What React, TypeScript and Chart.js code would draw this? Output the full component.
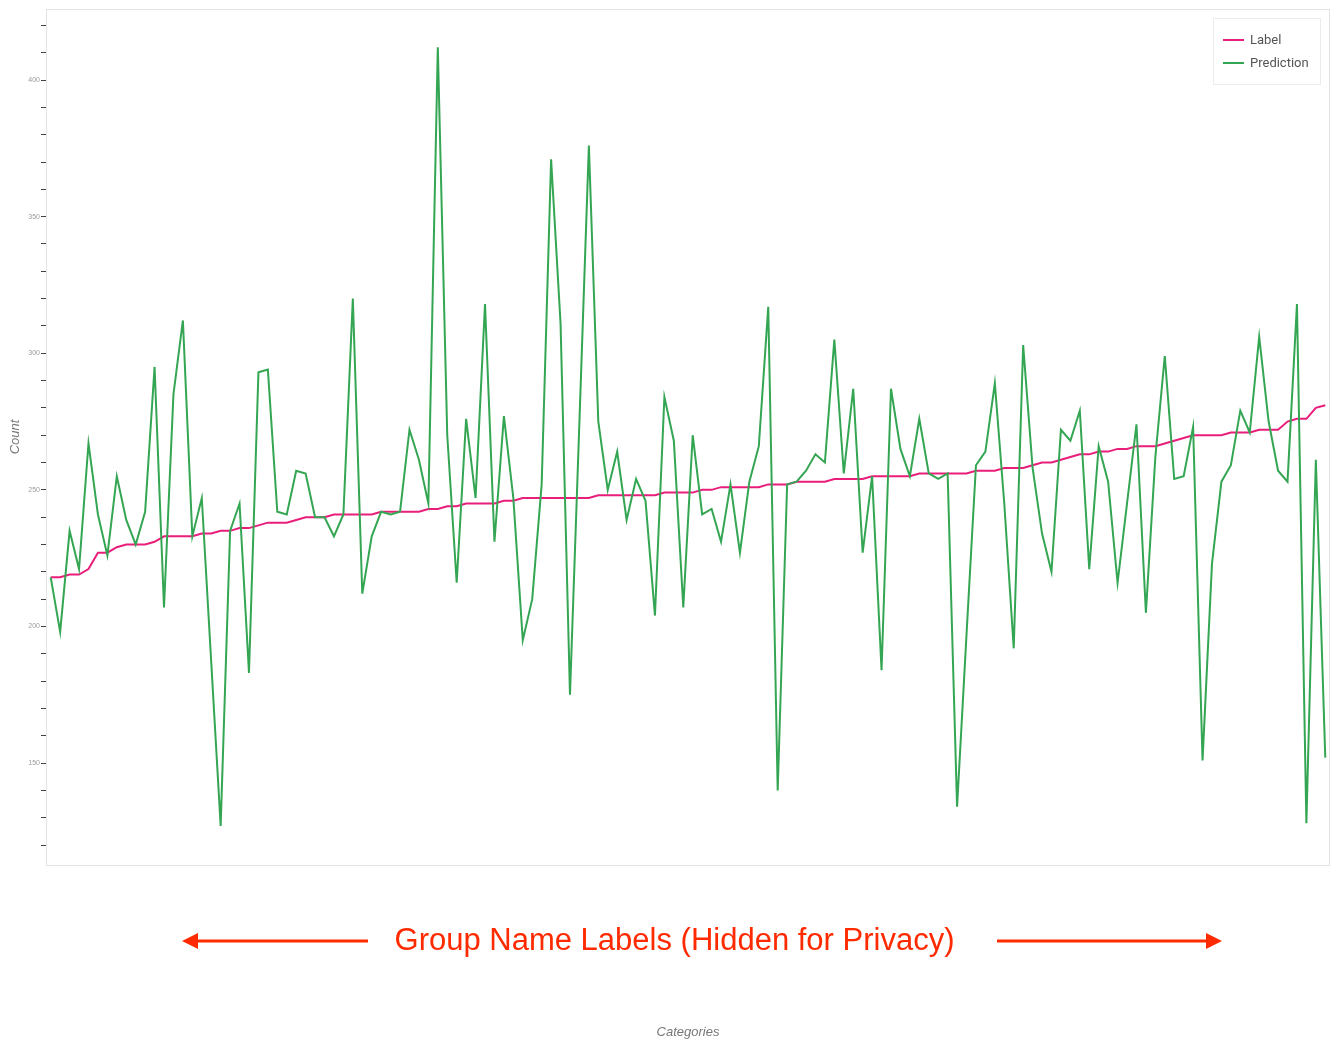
import React, { useEffect, useRef } from "react";
import { Chart, registerables } from "chart.js";

Chart.register(...registerables);

// Group names are hidden in the reference; placeholder category names.
const categories: string[] = Array.from({ length: 136 }, (_, i) => `Group ${i + 1}`);

const labelValues: number[] = [
  218, 218, 219, 219, 221, 227, 227, 229, 230, 230,
  230, 231, 233, 233, 233, 233, 234, 234, 235, 235,
  236, 236, 237, 238, 238, 238, 239, 240, 240, 240,
  241, 241, 241, 241, 241, 242, 242, 242, 242, 242,
  243, 243, 244, 244, 245, 245, 245, 245, 246, 246,
  247, 247, 247, 247, 247, 247, 247, 247, 248, 248,
  248, 248, 248, 248, 248, 249, 249, 249, 249, 250,
  250, 251, 251, 251, 251, 251, 252, 252, 252, 253,
  253, 253, 253, 254, 254, 254, 254, 255, 255, 255,
  255, 255, 256, 256, 256, 256, 256, 256, 257, 257,
  257, 258, 258, 258, 259, 260, 260, 261, 262, 263,
  263, 264, 264, 265, 265, 266, 266, 266, 267, 268,
  269, 270, 270, 270, 270, 271, 271, 271, 272, 272,
  272, 275, 276, 276, 280, 281,
];

const predictionValues: number[] = [
  218, 198, 235, 221, 267, 241, 226, 255, 239, 230,
  242, 295, 207, 285, 312, 233, 247, 187, 127, 235,
  245, 183, 293, 294, 242, 241, 257, 256, 240, 240,
  233, 241, 320, 212, 233, 242, 241, 242, 272, 261,
  245, 412, 270, 216, 276, 247, 318, 231, 277, 247,
  195, 210, 252, 371, 311, 175, 275, 376, 275, 250,
  264, 239, 254, 246, 204, 284, 268, 207, 270, 241,
  243, 231, 252, 227, 253, 266, 317, 140, 252, 253,
  257, 263, 260, 305, 256, 287, 227, 255, 184, 287,
  265, 255, 276, 256, 254, 256, 134, 197, 259, 264,
  289, 245, 192, 303, 258, 234, 220, 272, 268, 279,
  221, 266, 253, 216, 245, 274, 205, 262, 299, 254,
  255, 273, 151, 223, 253, 259, 279, 271, 306, 275,
  257, 253, 318, 128, 261, 152,
];

const yLabeledTicks: number[] = [150, 200, 250, 300, 350, 400];
const seriesNames: string[] = ["Label", "Prediction"];
const xTitle = "Categories";
const yTitle = "Count";
const annotationText = "Group Name Labels (Hidden for Privacy)";

const PINK = "#e91e7b";
const GREEN = "#34a653";
const RED = "#ff2a00";

const framePlugin = {
  id: "frame",
  beforeDatasetsDraw(chart: any) {
    const { ctx, chartArea } = chart;
    ctx.save();
    ctx.strokeStyle = "#e3e3e3";
    ctx.lineWidth = 1;
    ctx.strokeRect(
      Math.round(chartArea.left) + 0.5,
      Math.round(chartArea.top) + 0.5,
      Math.round(chartArea.right - chartArea.left) - 1,
      Math.round(chartArea.bottom - chartArea.top)
    );
    ctx.restore();
  },
};

const legendPlugin = {
  id: "boxLegend",
  afterDraw(chart: any) {
    const { ctx, chartArea } = chart;
    const w = 107;
    const h = 66;
    const x = chartArea.right - 10 - w;
    const y = chartArea.top + 9;
    ctx.save();
    ctx.fillStyle = "#ffffff";
    ctx.fillRect(x, y, w, h);
    ctx.strokeStyle = "#ebebeb";
    ctx.lineWidth = 1;
    ctx.strokeRect(Math.round(x) + 0.5, Math.round(y) + 0.5, w, h);
    const colors = [PINK, GREEN];
    seriesNames.forEach((name, i) => {
      const cy = y + 22 + i * 23;
      ctx.strokeStyle = colors[i];
      ctx.lineWidth = 2;
      ctx.beginPath();
      ctx.moveTo(x + 10, cy);
      ctx.lineTo(x + 31, cy);
      ctx.stroke();
      ctx.fillStyle = "#555555";
      ctx.font = "13px Roboto, 'Liberation Sans', Arial, sans-serif";
      ctx.textAlign = "left";
      ctx.textBaseline = "middle";
      ctx.fillText(name, x + 37, cy + 1);
    });
    ctx.restore();
  },
};

const annotationPlugin = {
  id: "privacyNote",
  afterDraw(chart: any) {
    const { ctx } = chart;
    const cy = 941;
    ctx.save();
    ctx.fillStyle = RED;
    ctx.strokeStyle = RED;
    ctx.font = "31px 'Liberation Sans', Arial, sans-serif";
    ctx.textAlign = "center";
    ctx.textBaseline = "middle";
    ctx.fillText(annotationText, 674.5, cy);
    ctx.lineWidth = 3;
    // left arrow
    ctx.beginPath();
    ctx.moveTo(368, cy);
    ctx.lineTo(194, cy);
    ctx.stroke();
    ctx.beginPath();
    ctx.moveTo(182, cy);
    ctx.lineTo(198, cy - 8);
    ctx.lineTo(198, cy + 8);
    ctx.closePath();
    ctx.fill();
    // right arrow
    ctx.beginPath();
    ctx.moveTo(997, cy);
    ctx.lineTo(1210, cy);
    ctx.stroke();
    ctx.beginPath();
    ctx.moveTo(1222, cy);
    ctx.lineTo(1206, cy - 8);
    ctx.lineTo(1206, cy + 8);
    ctx.closePath();
    ctx.fill();
    ctx.restore();
  },
};

export default function App() {
  const canvasRef = useRef<HTMLCanvasElement | null>(null);

  useEffect(() => {
    if (!canvasRef.current) return;
    const chart = new Chart(canvasRef.current, {
      type: "line",
      data: {
        labels: categories,
        datasets: [
          {
            label: seriesNames[0],
            data: labelValues,
            borderColor: PINK,
            backgroundColor: PINK,
            borderWidth: 2,
            pointRadius: 0,
            tension: 0,
            fill: false,
            order: 1,
          },
          {
            label: seriesNames[1],
            data: predictionValues,
            borderColor: GREEN,
            backgroundColor: GREEN,
            borderWidth: 2,
            pointRadius: 0,
            tension: 0,
            fill: false,
            order: 0,
          },
        ],
      },
      options: {
        animation: false,
        responsive: false,
        devicePixelRatio: 1,
        layout: { padding: { left: 0, right: 9, top: 9, bottom: 0 } },
        plugins: {
          legend: { display: false },
          tooltip: { enabled: false },
        },
        scales: {
          x: {
            type: "category",
            offset: true,
            grid: { display: false },
            border: { display: false },
            ticks: { display: false },
            title: {
              display: true,
              text: xTitle,
              color: "#777777",
              font: { family: "'Liberation Sans', Arial, sans-serif", size: 13, style: "italic" },
              padding: { top: 0, bottom: 2 },
            },
            afterFit: (scale: any) => {
              scale.height = 177;
            },
          },
          y: {
            type: "linear",
            min: 112.7,
            max: 426,
            border: { display: false },
            grid: {
              drawOnChartArea: false,
              drawTicks: true,
              tickLength: 5,
              tickColor: "#444444",
              tickWidth: 1,
            },
            ticks: {
              stepSize: 10,
              includeBounds: false,
              autoSkip: false,
              padding: 1,
              color: "#9a9a9a",
              font: { family: "'Liberation Sans', Arial, sans-serif", size: 7 },
              callback: (v: any) => (yLabeledTicks.includes(Number(v)) ? String(v) : ""),
            },
            title: {
              display: true,
              text: yTitle,
              color: "#777777",
              font: { family: "'Liberation Sans', Arial, sans-serif", size: 13, style: "italic" },
              padding: { top: 8, bottom: 0 },
            },
            afterFit: (scale: any) => {
              scale.width = 46;
            },
          },
        },
      },
      plugins: [framePlugin, legendPlugin, annotationPlugin],
    });
    return () => chart.destroy();
  }, []);

  return (
    <div style={{ position: "fixed", left: 0, top: 0, width: 1339, height: 1042, background: "#ffffff" }}>
      <canvas ref={canvasRef} width={1339} height={1042} style={{ display: "block", width: 1339, height: 1042 }} />
    </div>
  );
}
